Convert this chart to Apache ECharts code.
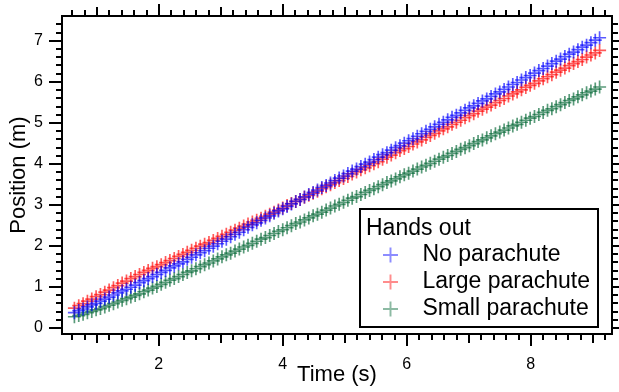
<!DOCTYPE html>
<html>
<head>
<meta charset="utf-8">
<script src="https://cdn.jsdelivr.net/npm/echarts@6/dist/echarts.min.js"></script>
<style>
html,body{margin:0;padding:0;background:#fff;}
#chart{width:619px;height:392px;}
</style>
</head>
<body>
<div id="chart"></div>
<script>
// ---- data ----
var time = [0.64,0.71,0.78,0.85,0.92,0.99,1.06,1.13,1.20,1.27,1.34,1.41,1.48,1.55,1.62,1.69,1.76,1.83,1.90,1.97,
2.04,2.11,2.18,2.25,2.32,2.39,2.46,2.53,2.60,2.67,2.74,2.81,2.88,2.95,3.02,3.09,3.16,3.23,3.30,3.37,
3.44,3.51,3.58,3.65,3.72,3.79,3.86,3.93,4.00,4.07,4.14,4.21,4.28,4.35,4.42,4.49,4.56,4.63,4.70,4.77,
4.84,4.91,4.98,5.05,5.12,5.19,5.26,5.33,5.40,5.47,5.54,5.61,5.68,5.75,5.82,5.89,5.96,6.03,6.10,6.17,
6.24,6.31,6.38,6.45,6.52,6.59,6.66,6.73,6.80,6.87,6.94,7.01,7.08,7.15,7.22,7.29,7.36,7.43,7.50,7.57,
7.64,7.71,7.78,7.85,7.92,7.99,8.06,8.13,8.20,8.27,8.34,8.41,8.48,8.55,8.62,8.69,8.76,8.83,8.90,8.97,
9.04,9.11];

var noParachute = [0.37,0.42,0.46,0.51,0.56,0.60,0.65,0.70,0.75,0.80,0.85,0.90,0.94,0.99,1.04,1.10,1.15,1.20,1.25,1.30,
1.35,1.40,1.46,1.51,1.56,1.61,1.67,1.72,1.78,1.83,1.88,1.94,1.99,2.05,2.11,2.16,2.22,2.28,2.33,2.39,
2.45,2.51,2.56,2.62,2.68,2.73,2.79,2.85,2.90,2.96,3.02,3.08,3.13,3.19,3.25,3.30,3.36,3.42,3.47,3.53,
3.59,3.65,3.70,3.76,3.82,3.87,3.93,3.99,4.04,4.10,4.16,4.22,4.27,4.33,4.39,4.44,4.50,4.56,4.61,4.67,
4.73,4.79,4.84,4.90,4.96,5.01,5.07,5.13,5.18,5.24,5.30,5.36,5.41,5.47,5.53,5.58,5.64,5.70,5.75,5.81,
5.87,5.93,5.98,6.04,6.10,6.15,6.21,6.27,6.32,6.38,6.44,6.50,6.55,6.61,6.67,6.72,6.78,6.84,6.89,6.95,
7.01,7.07];

var largeParachute = [0.48,0.54,0.59,0.65,0.70,0.76,0.81,0.87,0.92,0.98,1.03,1.09,1.14,1.20,1.25,1.30,1.35,1.40,1.45,1.49,
1.54,1.59,1.64,1.69,1.74,1.79,1.84,1.89,1.94,1.99,2.04,2.08,2.13,2.18,2.23,2.28,2.33,2.38,2.43,2.48,
2.53,2.58,2.62,2.67,2.72,2.77,2.82,2.87,2.92,2.98,3.03,3.08,3.13,3.18,3.23,3.28,3.33,3.39,3.44,3.49,
3.54,3.59,3.64,3.69,3.75,3.80,3.85,3.90,3.95,4.00,4.05,4.11,4.16,4.21,4.27,4.32,4.37,4.42,4.48,4.53,
4.58,4.64,4.69,4.74,4.80,4.85,4.90,4.96,5.01,5.06,5.12,5.17,5.22,5.28,5.33,5.38,5.43,5.49,5.54,5.59,
5.65,5.70,5.75,5.80,5.86,5.91,5.96,6.02,6.07,6.12,6.17,6.23,6.28,6.33,6.39,6.44,6.49,6.54,6.60,6.65,
6.70,6.76];

var smallParachute = [0.27,0.30,0.33,0.37,0.40,0.44,0.47,0.51,0.55,0.59,0.63,0.67,0.71,0.75,0.79,0.83,0.88,0.92,0.97,1.01,
1.06,1.11,1.16,1.20,1.25,1.30,1.35,1.39,1.44,1.49,1.54,1.58,1.63,1.68,1.73,1.78,1.82,1.87,1.92,1.97,
2.01,2.06,2.11,2.16,2.20,2.25,2.30,2.35,2.39,2.44,2.49,2.54,2.58,2.63,2.68,2.73,2.77,2.82,2.87,2.92,
2.97,3.01,3.06,3.11,3.16,3.20,3.25,3.30,3.35,3.39,3.44,3.49,3.54,3.58,3.63,3.68,3.73,3.77,3.82,3.87,
3.92,3.96,4.01,4.06,4.11,4.16,4.20,4.25,4.30,4.35,4.39,4.44,4.49,4.54,4.58,4.63,4.68,4.73,4.77,4.82,
4.87,4.92,4.96,5.01,5.06,5.11,5.15,5.20,5.25,5.30,5.34,5.39,5.44,5.49,5.54,5.58,5.63,5.68,5.73,5.77,
5.82,5.87];

var seriesNames = ['No parachute','Large parachute','Small parachute'];
var legendTitle = 'Hands out';
var xMajorTicks = [2,4,6,8];
var xMediumTicks = [1,3,5,7,9];
var yMajorTicks = [0,1,2,3,4,5,6,7];

// ---- helpers ----
function pairs(xs, ys){ var out=[]; var n=Math.min(xs.length, ys.length); for(var i=0;i<n;i++) out.push([xs[i], ys[i]]); return out; }
function minorTicks(lo, hi, step){
  var out=[]; var n=Math.round((hi-lo)/step);
  for(var i=0;i<=n;i++){ var v=Math.round((lo+i*step)*1000)/1000; if(Math.abs(v-Math.round(v))>1e-6) out.push(v); }
  return out;
}
var xMinorTicks = minorTicks(0.6, 9.2, 0.2);
var yMinorTicks = minorTicks(0, 7.4, 0.2);

var FONT = '"Liberation Sans", Arial, sans-serif';
var PLUS = 'path://M4.35,0H5.65V10H4.35Z M0,4.35H10V5.65H0Z';
var X_MIN = 0.44, X_MAX = 9.31, Y_MIN = -0.15, Y_MAX = 7.6;

function baseAx(pos, ticks, len, mn, mx, opts){
  var a = {
    type:'value', position:pos, min:mn, max:mx, gridIndex:0,
    axisLine:{show:true, onZero:false, lineStyle:{color:'#000', width:2}},
    axisTick:{show:true, inside:false, length:len, customValues:ticks, lineStyle:{color:'#000', width:2}},
    axisLabel:{show:false},
    splitLine:{show:false}
  };
  for (var k in (opts||{})) a[k]=opts[k];
  return a;
}
function xAx(pos, ticks, len, opts){ return baseAx(pos, ticks, len, X_MIN, X_MAX, opts); }
function yAx(pos, ticks, len, opts){ return baseAx(pos, ticks, len, Y_MIN, Y_MAX, opts); }

var chart = echarts.init(document.getElementById('chart'), null, {renderer:'canvas'});

var xAxes = [
  xAx('bottom', xMajorTicks, 12, {
    axisLabel:{show:true, customValues:xMajorTicks, margin:23, color:'#000', fontSize:16, fontFamily:FONT},
    name:'Time (s)', nameLocation:'middle', nameGap:30, nameMoveOverlap:false,
    nameTextStyle:{color:'#000', fontSize:22, fontFamily:FONT}
  }),
  xAx('bottom', xMediumTicks, 9),
  xAx('bottom', xMinorTicks, 6),
  xAx('top', xMajorTicks, 12),
  xAx('top', xMediumTicks, 9),
  xAx('top', xMinorTicks, 6)
];
var yAxes = [
  yAx('left', yMajorTicks, 13, {
    axisLabel:{show:true, customValues:yMajorTicks, margin:19, color:'#000', fontSize:16, fontFamily:FONT},
    name:'Position (m)', nameLocation:'middle', nameGap:32, nameRotate:90, nameMoveOverlap:false,
    nameTextStyle:{color:'#000', fontSize:22, fontFamily:FONT}
  }),
  yAx('left', yMinorTicks, 6),
  yAx('right', yMajorTicks, 13),
  yAx('right', yMinorTicks, 6)
];

function sc(name, vals, color){
  return {
    name:name, type:'scatter', xAxisIndex:0, yAxisIndex:0,
    data:pairs(time, vals), symbol:PLUS, symbolSize:13,
    itemStyle:{color:color, opacity:0.65},
    emphasis:{disabled:true}, z:2
  };
}

var colors = {'No parachute':'#0000ff','Large parachute':'#ff0000','Small parachute':'#006633'};

chart.setOption({
  animation:false,
  backgroundColor:'#fff',
  grid:{left:62, right:7, top:16, bottom:58, containLabel:false, outerBoundsMode:'none'},
  xAxis:xAxes,
  yAxis:yAxes,
  legend:{
    show:true, orient:'vertical', left:383, top:242, padding:0, z:20,
    itemWidth:54, itemHeight:15, itemGap:1,
    data:seriesNames.map(function(n){ return {name:n, icon:PLUS, itemStyle:{color:colors[n], opacity:0.45}}; }),
    textStyle:{color:'#000', fontSize:23, fontFamily:FONT, lineHeight:26},
    selectedMode:false
  },
  graphic:[
    {type:'rect', z:10, shape:{x:360, y:209, width:238, height:118}, style:{fill:'#fff', stroke:'#000', lineWidth:2}},
    {type:'text', z:21, x:366, y:217, style:{text:legendTitle, font:'23px ' + FONT, fill:'#000', textVerticalAlign:'top'}}
  ],
  series:[
    sc(seriesNames[1], largeParachute, colors['Large parachute']),
    sc(seriesNames[2], smallParachute, colors['Small parachute']),
    sc(seriesNames[0], noParachute, colors['No parachute'])
  ]
});
</script>
</body>
</html>
